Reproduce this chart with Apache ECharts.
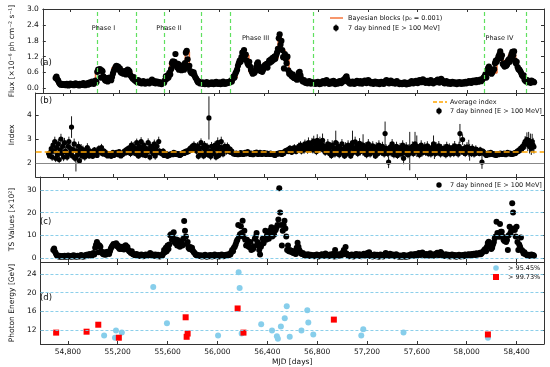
<!DOCTYPE html>
<html><head><meta charset="utf-8">
<script src="https://cdn.jsdelivr.net/npm/echarts@6/dist/echarts.min.js"></script>
<style>html,body{margin:0;padding:0;background:#fff}#c{width:550px;height:367px}</style>
</head><body><div id="c"></div><script>
// ---- DATA ----
const binStart = 54683;   // MJD of first 7-day bin
const binDays = 7;
// 7-day binned flux (x1e-6 ph cm^-2 s^-1), in hundredths
const flux100 = [
38,44,33,28,20,15,13,16,12,14, 12,15,11,16,13,10,14,17,12,15, 13,11,14,18,12,15,13,10,16,14, 12,16,19,14,11,15,17,13,20,15,
22,18,25,20,16,24,28,22,
62,70,66,72,40,68,64,45,35,30, 28,38,25,32,40,35,30,42,55,65, 72,80,85,78,82,70,75,60,58,62, 55,65,58,52,66,70,68,64,50,45,
40,35,42,30,28,25,22,30,26,20, 24,18,22,26,20,17,23,19,25,21, 18,22,27,32,24,20,26,18,22,25, 20,17,23,19,15,18,22,20,30,45,
35,48,40,58,52,72,95,102,88,100, 130,85,78,92,70,88,80,68,75,82, 70,95,135,142,110,78,85,65,58,62, 55,60,48,40,35,28,22,25,18,20,
18,22,16,20,15,19,23,17,14,18, 20,16,22,18,15,21,17,24,19,16, 18,22,15,20,17,25,19,16,21,18,23,20,24,
22,28,25,35,45,40,55,62,70,85, 95,105,100,118,135,122,145,110,128,105, 95,88,100,82,70,62,55,60,58,65, 80,92,98,85,72,65,78,62,70,80,
88,82,92,78,95,105,98,110,102,115, 108,120,112,125,135,150,190,205,165,180, 145,118,75,130,112,95,120,68,55,58, 50,45,52,40,38,44,35,32,45,58,
62,48,35,28,25,30,22,20,24,18, 22,26,20,17,23,19,21,
20,16,22,18,24,19,15,21,17,23, 26,20,18,24,30,22,19,16,21,25, 18,22,27,20,15,19,23,17,21,26, 22,19,24,30,26,35,40,45,32,24,
20,17,22,18,25,21,16,23,19,27, 24,20,18,26,22,17,21,25,28,23, 19,24,30,26,21,18,23,20,16,22, 25,20,17,23,19,15,21,24,18,20,
16,22,26,30,25,20,18,23,28,22, 19,24,20,17,22,26,21,18,15,20, 18,15,20,16,22,17,14,19,16,21, 17,22,26,20,18,24,21,27,23,19,
25,30,28,22,26,33,29,24,20,23, 27,22,19,25,30,24,21,18,23,26, 22,28,32,26,21,24,35,30,25,20, 18,22,26,20,17,23,19,16,21,24,
20,17,22,19,15,21,18,23,20,16, 19,22,17,21,24,18,20,23,26,21, 24,20,27,23,28,25,22,30,26,24, 28,32,26,30,35,40,
45,52,40,58,75,82,70,62,55,60, 68,72,95,105,100,110,120,128,140,115, 125,92,88,82,95,85,90,105,110,100, 118,130,138,125,140,105,95,100,80,72,
70,65,58,50,45,48,32,28,25,30, 22,26,24,20,28,23,25,22
];
// photon index, in hundredths
const index100 = [
240,230,245,260,225,275,250,290,220,265, 235,280,215,255,300,240,270,225,285,250, 245,225,270,290,240,260,350,230,255,280, 220,225,250,235,270,210,245,260,230,255,
240,225,255,235,265,245,230,250,
235,240,228,245,255,238,242,232,250,260, 255,245,265,240,238,250,245,235,242,230, 238,232,240,228,236,245,232,240,238,245, 240,235,248,242,230,238,236,245,250,242,
255,245,260,250,265,240,275,258,270,245, 262,240,285,255,230,270,248,290,260,235, 275,250,232,260,245,285,255,225,270,248, 262,240,280,230,255,270,245,290,250,242,
245,238,250,232,242,236,240,228,235,232, 236,240,238,235,245,238,242,236,240,235, 240,232,235,238,242,245,240,248,250,245, 252,248,258,262,255,270,262,275,258,265,
250,272,228,262,245,285,240,265,230,275, 255,240,268,235,388,250,228,270,245,262, 240,275,225,258,285,232,268,245,290,262,238,255,270,
262,250,270,255,248,258,245,250,242,238, 240,236,242,238,235,240,236,244,238,242, 236,240,245,238,242,248,244,240,236,242, 238,235,240,244,238,246,242,236,240,245,
240,236,242,238,244,240,236,242,238,240, 236,242,238,240,235,238,232,236,240,238, 242,238,244,240,236,245,240,248,252,250, 255,248,258,262,250,245,260,255,265,252,
248,256,262,270,258,275,250,264,268,255, 280,262,270,255,285,268,258,
270,285,255,292,265,280,248,295,272,260, 288,262,278,295,255,270,245,268,252,280, 255,240,268,232,275,250,262,238,285,258, 245,270,235,262,250,280,242,258,230,268,
255,240,275,248,262,230,270,285,245,260, 288,250,272,240,265,282,248,258,270,275, 255,242,268,235,260,280,248,238,265,250, 272,245,258,230,268,250,240,275,255,262,
245,270,250,238,323,262,248,240,204,255, 268,242,280,255,235,262,248,270,232,258, 245,265,238,252,275,220,258,242,268,250, 235,262,250,245,258,270,240,262,280,255,
270,248,262,235,255,275,242,260,250,268, 245,258,272,240,262,250,238,265,255,280, 252,240,268,258,245,272,250,238,262,255, 242,262,250,235,270,255,245,265,238,258,
248,265,240,272,255,245,260,238,270,323, 260,250,298,245,262,240,255,268,250,262, 245,255,240,262,250,238,240,258,245,252, 248,240,255,242,204,250,
245,238,240,232,236,242,235,238,245,240, 236,240,234,238,232,236,240,235,238,242, 238,236,240,242,238,235,240,245,240,238, 242,238,236,240,238,244,240,245,250,248,
255,252,262,258,270,265,280,290,285,298, 278,295,270,285,262,290,275,268
];
// 1-sigma error of the index, in hundredths
const indexErr100 = [
10,9,12,14,16,18,15,20,16,18, 17,20,15,18,22,15,20,17,20,18, 14,15,18,20,16,18,45,15,18,22, 15,60,16,15,20,14,18,19,15,18,
14,15,16,14,18,15,12,14,
8,7,8,7,12,8,8,10,12,14, 14,12,15,12,10,12,13,10,9,8, 7,7,6,7,7,8,7,8,8,8, 8,8,9,8,7,7,8,9,10,10,
11,12,12,14,15,15,16,14,18,16, 13,14,17,14,12,15,14,18,15,12, 15,14,12,13,13,18,14,14,17,14, 15,14,18,16,15,17,14,20,12,10,
12,10,12,9,10,8,7,7,8,6, 6,7,7,7,8,7,7,8,8,7, 7,6,6,6,7,8,7,9,9,9, 10,9,11,12,12,14,14,16,15,16,
14,15,13,16,14,18,13,15,14,17, 15,13,16,14,90,15,16,18,14,15, 14,16,14,15,22,14,16,15,20,16,14,15,16,
16,15,16,14,12,12,10,10,9,8, 8,7,7,6,6,6,6,6,6,6, 6,6,7,7,7,8,8,8,7,7, 7,7,6,7,7,8,7,7,7,7,
7,7,6,6,7,6,6,6,6,6, 6,6,6,6,6,5,5,5,5,5, 5,6,7,6,6,7,7,8,9,9, 10,10,11,12,12,11,12,12,14,12,
11,12,14,15,14,16,14,16,18,16, 18,16,20,16,22,18,16,
16,20,15,22,17,20,15,25,18,16, 22,17,20,28,16,19,15,17,16,20, 16,13,19,15,20,16,17,15,50,17, 15,19,15,17,16,20,15,17,13,19,
16,15,20,16,17,13,19,50,15,17, 22,16,19,15,17,22,16,17,19,45, 16,15,19,15,17,20,16,15,19,16, 19,15,17,13,19,16,15,20,16,17,
15,19,16,15,50,17,16,15,25,16, 19,15,20,16,15,17,16,19,15,17, 16,19,15,17,20,25,17,15,19,16, 15,17,80,16,17,20,15,17,50,16,
45,16,17,15,16,20,15,17,16,19, 15,17,19,15,17,16,15,19,16,35, 35,15,19,17,16,20,16,15,17,16, 15,17,16,15,19,16,15,17,15,17,
16,17,15,20,16,15,17,15,19,40, 17,16,22,15,17,15,16,19,16,35, 35,16,15,17,16,15,13,16,15,15, 13,12,13,11,28,10,
13,12,12,10,10,10,9,9,9,9, 9,8,8,7,7,7,7,7,6,6, 6,6,7,7,7,7,7,7,6,6, 6,6,6,6,6,7,7,8,9,9,
10,11,12,12,14,14,18,22,25,30, 28,35,30,38,28,32,30,28
];
// TS values (x10^2), in tenths
const ts10 = [
35,42,28,20,12,9,7,10,6,8, 7,9,5,10,8,6,8,11,7,9, 8,6,9,12,7,10,8,5,10,9, 7,10,13,9,6,9,11,8,14,10,
15,12,18,14,10,17,22,16,
45,58,70,62,25,55,50,30,22,18, 16,25,14,20,28,22,18,30,42,50, 55,62,58,60,65,52,56,45,40,48, 40,50,42,38,52,56,50,48,35,30,
28,22,30,18,16,14,12,18,15,10, 14,9,12,16,11,8,13,10,15,12, 10,13,17,22,15,11,16,9,12,15, 11,8,14,10,7,9,13,11,20,35,
25,45,30,55,40,60,100,105,80,90, 113,70,65,82,55,78,68,50,60,72, 55,85,163,120,95,62,70,45,40,48, 38,45,32,25,22,16,12,14,9,11,
9,12,7,10,8,11,14,9,6,10, 11,8,13,10,7,12,9,15,10,8, 10,13,7,11,9,16,10,8,12,9,14,11,15,
12,18,15,25,35,30,45,50,60,72, 80,145,95,105,140,110,164,94,120,80, 55,80,70,50,48,70,35,45,40,52, 85,94,110,70,55,35,15,50,62,85,
65,80,120,80,100,105,85,120,110,135, 95,115,102,120,125,135,145,170,307,200, 145,55,120,145,164,130,95,35,55,30, 35,28,32,25,22,30,20,18,45,67,
50,35,28,20,18,22,15,12,16,10, 13,17,11,9,14,10,12,
11,8,13,9,15,10,7,12,9,14, 17,11,9,14,20,13,10,8,12,16, 9,13,18,11,7,35,15,8,12,17, 13,10,15,22,16,35,25,48,20,15,
11,8,13,9,16,12,7,14,10,18, 15,11,9,17,13,8,12,16,19,14, 10,15,22,17,25,9,14,11,7,13, 16,11,8,14,10,6,12,15,9,11,
7,13,17,22,16,11,9,14,19,13, 10,15,11,8,13,17,12,9,6,11, 9,6,11,7,13,8,5,10,7,12, 8,13,17,11,9,15,12,18,14,10,
16,22,19,13,17,24,20,15,11,14, 18,13,10,16,21,15,12,9,14,17, 13,19,23,17,12,15,26,21,16,11, 9,13,17,11,8,14,10,7,12,15,
11,8,13,10,6,12,9,14,11,7, 10,13,8,12,15,9,11,14,17,12, 15,11,18,14,19,16,13,21,17,15, 19,23,17,21,26,30,
35,40,30,50,66,72,55,48,40,45, 60,70,87,95,160,110,100,94,150,116, 116,94,80,75,90,70,79,35,100,138, 110,120,241,200,130,123,95,138,70,35,
60,50,90,35,30,20,25,18,15,12, 10,14,12,9,15,11,13,10
];
// Bayesian blocks (p0 = 0.001): block edges (MJD) and block flux levels
const bbEdges = [54683,54698,55005,55068,55139,55217,55296,55335,55564,55603,55650,55729,55761,55808,55839,56107,56146,56186,56241,56312,56359,56430,56477,56501,56532,56564,56611,56674,58107,58154,58202,58241,58335,58391,58422,58446,58485,58548];
const bbFlux = [0.38,0.15,0.66,0.32,0.78,0.62,0.38,0.22,0.45,0.95,0.80,1.38,0.62,0.35,0.18,0.40,0.95,1.25,0.62,0.85,0.95,1.15,1.95,1.45,1.20,0.50,0.40,0.20,0.40,0.70,0.58,1.05,1.28,0.85,0.60,0.40,0.25];
const phaseEdges = [55020,55335,55556,55855,56091,56761,58139,58477];
const phaseNames = ['Phase I','Phase II','Phase III','Phase IV'];
const avgIndex = 2.48;
// highest-energy photons
const p95MJD = [55091,55178,55186,55233,55485,55595,56005,56170,56178,56194,56351,56438,56477,56485,56509,56540,56556,56580,56674,56721,56729,56769,57154,57170,57493,58170];
const p95E = [10.8,10.3,11.85,11.4,21.2,13.4,10.8,24.4,21.0,11.2,13.2,11.85,10.6,10.1,12.7,14.5,17.05,10.5,11.85,16.2,13.6,11.0,10.8,12.1,11.4,10.3];
const p99MJD = [54706,54950,55044,55209,55745,55753,55761,56162,56209,56934,58170];
const p99E = [11.4,11.6,13.1,10.3,14.7,10.5,11.2,16.6,11.4,14.2,11.0];
// tick labels
const mjdTicks = [54800,55200,55600,56000,56400,56800,57200,57600,58000,58400];
const fluxTicks = [0.0,0.6,1.2,1.8,2.4,3.0];
const indexTicks = [2,3,4];
const tsTicks = [0,10,20,30];
const energyTicks = [12,16,20,24];

// ---- BUILD ----
const n = Math.min(flux100.length, index100.length, indexErr100.length, ts10.length);
const mjd = []; for (let i = 0; i < n; i++) mjd.push(binStart + binDays * i);
const fluxData = [], idxData = [], errData = [], tsData = [];
for (let i = 0; i < n; i++) {
  fluxData.push([mjd[i], flux100[i] / 100]);
  const v = index100[i] / 100, e = indexErr100[i] / 100;
  idxData.push([mjd[i], v]);
  errData.push([mjd[i], v - e, v + e]);
  tsData.push([mjd[i], ts10[i] / 10]);
}
const bbData = bbFlux.map((v, i) => [bbEdges[i], v]);
bbData.push([bbEdges[bbEdges.length - 1], bbFlux[bbFlux.length - 1]]);

const FONT = 'DejaVu Sans';
const AX = '#333';
const XMIN = 54580, XMAX = 58620;
const grids = [
  {left: 32, top: 9, width: 512, height: 84},
  {left: 32, top: 93, width: 512, height: 84},
  {left: 32, top: 177, width: 512, height: 85},
  {left: 32, top: 262, width: 512, height: 82}
];
const yCfg = [
  {min: -0.19, max: 3.02, ticks: fluxTicks, fmt: v => v.toFixed(1), name: 'Flux [×10⁻⁶ ph cm⁻² s⁻¹]', gap: 22},
  {min: 1.42, max: 4.92, ticks: indexTicks, fmt: v => String(v), name: 'Index', gap: 7},
  {min: -1.76, max: 35.7, ticks: tsTicks, fmt: v => String(v), name: 'TS Values [×10²]', gap: 15},
  {min: 8.95, max: 26.6, ticks: energyTicks, fmt: v => String(v), name: 'Photon Energy [GeV]', gap: 14}
];
const xAxes = [], yAxes = [];
grids.forEach((g, gi) => {
  ['bottom', 'top'].forEach(pos => {
    const lab = (gi === 3 && pos === 'bottom');
    xAxes.push({
      type: 'value', gridIndex: gi, position: pos, min: XMIN, max: XMAX,
      axisLine: {show: true, onZero: false, lineStyle: {color: AX, width: 1}},
      axisTick: {show: true, inside: true, length: 3, customValues: mjdTicks, lineStyle: {color: AX}},
      axisLabel: {show: lab, customValues: mjdTicks, formatter: v => v.toLocaleString('en-US'), fontSize: 7.5, fontFamily: FONT, color: '#111', margin: 4},
      splitLine: {show: false},
      name: lab ? 'MJD [days]' : '', nameLocation: 'middle', nameGap: 14,
      nameTextStyle: {fontSize: 7.5, fontFamily: FONT, color: '#111'}
    });
  });
  const c = yCfg[gi];
  ['left', 'right'].forEach(pos => {
    const lab = pos === 'left';
    yAxes.push({
      type: 'value', gridIndex: gi, position: pos, min: c.min, max: c.max,
      axisLine: {show: true, onZero: false, lineStyle: {color: AX, width: 1}},
      axisTick: {show: true, inside: true, length: 3, customValues: c.ticks, lineStyle: {color: AX}},
      axisLabel: {show: lab, customValues: c.ticks, formatter: c.fmt, fontSize: 7.5, fontFamily: FONT, color: '#111', margin: 4},
      splitLine: {show: false},
      name: lab ? c.name : '', nameLocation: 'middle', nameGap: c.gap, nameRotate: 90,
      nameTextStyle: {fontSize: 7.5, fontFamily: FONT, color: '#111'}
    });
  });
});

function hLines(values, style) {
  return {data: values.map(v => ({yAxis: v})), symbol: ['none', 'none'], silent: true, animation: false,
          label: {show: false}, lineStyle: style, emphasis: {disabled: true}};
}
const gridStyle = {color: '#7fc9e8', type: [3, 2], width: 0.9};
const dot = {color: '#000', opacity: 1};

const series = [
  // phase boundaries (panel a)
  {type: 'line', xAxisIndex: 0, yAxisIndex: 0, data: [], z: 1,
   markLine: {data: phaseEdges.map(v => ({xAxis: v})), symbol: ['none', 'none'], silent: true, animation: false,
              label: {show: false}, lineStyle: {color: '#5fe05f', type: [4, 3], width: 1.2}}},
  // Bayesian blocks
  {type: 'line', xAxisIndex: 0, yAxisIndex: 0, step: 'end', data: bbData, showSymbol: false, symbol: 'none',
   lineStyle: {color: '#f4743b', width: 1.6}, z: 2, animation: false},
  // flux
  {type: 'scatter', xAxisIndex: 0, yAxisIndex: 0, data: fluxData, symbolSize: 6.2, itemStyle: dot, z: 3, animation: false},
  // index reference lines
  {type: 'line', xAxisIndex: 2, yAxisIndex: 2, data: [], z: 1,
   markLine: hLines([2], {color: '#888', type: 'solid', width: 1.2})},
  {type: 'line', xAxisIndex: 2, yAxisIndex: 2, data: [], z: 2,
   markLine: hLines([avgIndex], {color: '#ffa500', type: [6, 3], width: 1.5})},
  // index error bars
  {type: 'custom', xAxisIndex: 2, yAxisIndex: 2, data: errData, z: 3, clip: true, animation: false,
   encode: {x: 0, y: [1, 2]},
   renderItem: (params, api) => {
     const a = api.coord([api.value(0), api.value(1)]);
     const b = api.coord([api.value(0), api.value(2)]);
     return {type: 'line', shape: {x1: a[0], y1: a[1], x2: b[0], y2: b[1]}, style: {stroke: '#000', lineWidth: 0.9}};
   }},
  {type: 'scatter', xAxisIndex: 2, yAxisIndex: 2, data: idxData, symbolSize: 5.2, itemStyle: dot, z: 4, animation: false},
  // TS
  {type: 'line', xAxisIndex: 4, yAxisIndex: 4, data: [], z: 1, markLine: hLines(tsTicks, gridStyle)},
  {type: 'scatter', xAxisIndex: 4, yAxisIndex: 4, data: tsData, symbolSize: 6, itemStyle: dot, z: 3, animation: false},
  // photon energies
  {type: 'line', xAxisIndex: 6, yAxisIndex: 6, data: [], z: 1, markLine: hLines(energyTicks, gridStyle)},
  {type: 'scatter', xAxisIndex: 6, yAxisIndex: 6, data: p95MJD.map((x, i) => [x, p95E[i]]), symbol: 'circle', symbolSize: 6,
   itemStyle: {color: '#87ceeb', opacity: 1}, z: 3, animation: false},
  {type: 'scatter', xAxisIndex: 6, yAxisIndex: 6, data: p99MJD.map((x, i) => [x, p99E[i]]), symbol: 'rect', symbolSize: 6,
   itemStyle: {color: '#ff0000', opacity: 1}, z: 4, animation: false}
];

function txt(x, y, s, size, align) {
  return {type: 'text', x: x, y: y, z: 100, style: {text: s, fill: '#111', font: size + 'px "' + FONT + '"', align: align || 'left', verticalAlign: 'middle'}};
}
const graphic = [
  txt(40, 63, '(a)', 8.5), txt(40, 101, '(b)', 8.5), txt(40, 222, '(c)', 8.5), txt(40, 298, '(d)', 8.5),
  txt(103.5, 28, phaseNames[0], 6.5, 'center'), txt(169, 28, phaseNames[1], 6.5, 'center'),
  txt(255.5, 38, phaseNames[2], 6.5, 'center'), txt(499.5, 38, phaseNames[3], 6.5, 'center'),
  // legend (a)
  {type: 'line', z: 100, shape: {x1: 330, y1: 18, x2: 343, y2: 18}, style: {stroke: '#f4743b', lineWidth: 1.5}},
  txt(348, 18, 'Bayesian blocks (p₀ = 0.001)', 6.5),
  {type: 'line', z: 100, shape: {x1: 336, y1: 24.5, x2: 336, y2: 31.5}, style: {stroke: '#000', lineWidth: 1}},
  {type: 'circle', z: 100, shape: {cx: 336, cy: 28, r: 2.7}, style: {fill: '#000'}},
  txt(348, 28, '7 day binned [E > 100 MeV]', 6.5),
  // legend (b)
  {type: 'line', z: 100, shape: {x1: 433, y1: 102, x2: 447, y2: 102}, style: {stroke: '#ffa500', lineWidth: 1.5, lineDash: [4, 2]}},
  txt(450, 102, 'Average index', 6.5),
  {type: 'line', z: 100, shape: {x1: 439, y1: 107.5, x2: 439, y2: 114.5}, style: {stroke: '#000', lineWidth: 1}},
  {type: 'circle', z: 100, shape: {cx: 439, cy: 111, r: 2.7}, style: {fill: '#000'}},
  txt(450, 111, '7 day binned [E > 100 MeV]', 6.5),
  // legend (c)
  {type: 'circle', z: 100, shape: {cx: 439, cy: 185, r: 2.7}, style: {fill: '#000'}},
  txt(450, 185, '7 day binned [E > 100 MeV]', 6.5),
  // legend (d)
  {type: 'circle', z: 100, shape: {cx: 496, cy: 268, r: 2.8}, style: {fill: '#87ceeb'}},
  txt(508, 268, '> 95.45%', 6.5),
  {type: 'rect', z: 100, shape: {x: 493, y: 274, width: 6, height: 6}, style: {fill: '#ff0000'}},
  txt(508, 277, '> 99.73%', 6.5)
];

const chart = echarts.init(document.getElementById('c'), null, {renderer: 'canvas'});
chart.setOption({
  animation: false,
  backgroundColor: '#fff',
  grid: grids,
  xAxis: xAxes,
  yAxis: yAxes,
  series: series,
  graphic: graphic
});
</script></body></html>
